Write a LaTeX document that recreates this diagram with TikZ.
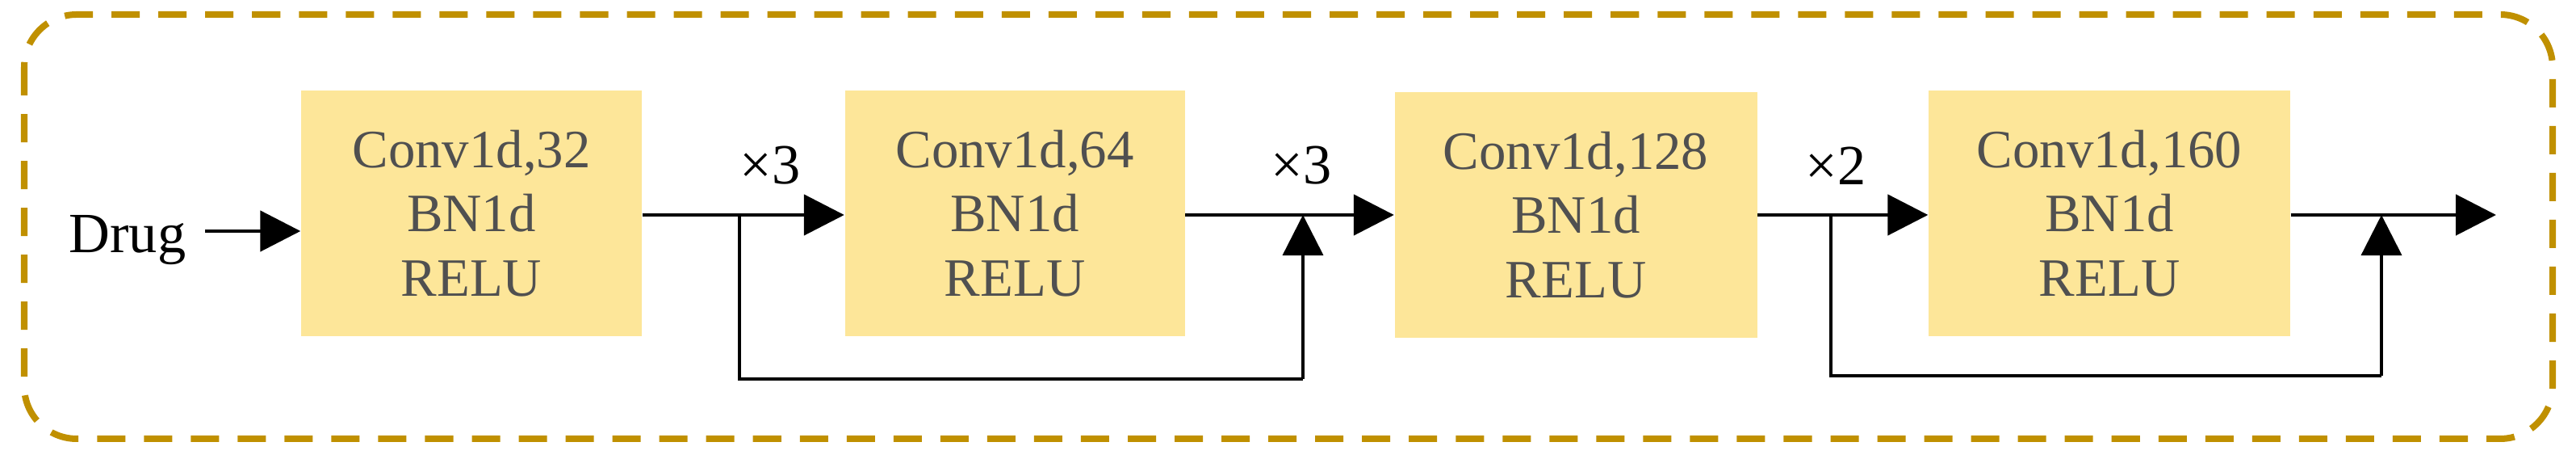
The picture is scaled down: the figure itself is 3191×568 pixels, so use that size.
\documentclass[tikz,border=0pt]{standalone}
\usepackage{fontspec}
\setmainfont{Liberation Serif}
\usetikzlibrary{arrows.meta}
\definecolor{boxfill}{HTML}{FDE699}
\definecolor{frame}{HTML}{C09000}
\definecolor{txt}{HTML}{505050}
\begin{document}
\begin{tikzpicture}[x=0.01cm,y=-0.01cm,
  blk/.style={fill=boxfill,draw=none,minimum width=#1*0.01cm,minimum height=3.03cm,
     align=center,text=txt,font=\fontsize{19}{22.7}\selectfont,inner sep=0pt},
  lbl/.style={font=\fontsize{20}{24}\selectfont,inner sep=0pt},
  main/.style={line width=1.4pt,-{Triangle[length=0.5cm,width=0.5cm]}},
  skip/.style={line width=1pt},
  up/.style={line width=1pt,-{Triangle[length=0.5cm,width=0.5cm]}}]
\useasboundingbox (0,0) rectangle (3191,568);
\draw[frame,line width=0.08cm,dash pattern=on 0.35cm off 0.23cm,rounded corners=0.65cm]
  (30,18) rectangle (3162,543);
\node[blk=422] (b1) at (584,264) {Conv1d,32\\BN1d\\RELU};
\node[blk=421] (b2) at (1257,264) {Conv1d,64\\BN1d\\RELU};
\node[blk=449] (b3) at (1952,266) {Conv1d,128\\BN1d\\RELU};
\node[blk=448] (b4) at (2613,264) {Conv1d,160\\BN1d\\RELU};
\node[lbl] (drug) at (158,297) {Drug};
\node[lbl] (m1) at (954,205) {×3};
\node[lbl] (m2) at (1612,205) {×3};
\node[lbl] (m3) at (2274,205) {×2};
\coordinate (s1) at (916,266);
\coordinate (j1) at (1614,266);
\coordinate (s2) at (2268,266);
\coordinate (j2) at (2950,266);
\coordinate (out) at (3092,266);
\draw[main] (254,286) -- (b1.west|-0,286);
\draw[main] (b1.east|-0,266) -- (b2.west|-0,266);
\draw[main] (b2.east|-0,266) -- (b3.west|-0,266);
\draw[main] (b3.east|-0,266) -- (b4.west|-0,266);
\draw[main] (b4.east|-0,266) -- (out);
\draw[skip] (s1) -- (916,469) -- (1614,469);
\draw[up] (1614,469) -- (j1);
\draw[skip] (s2) -- (2268,465) -- (2950,465);
\draw[up] (2950,465) -- (j2);
\end{tikzpicture}
\end{document}
